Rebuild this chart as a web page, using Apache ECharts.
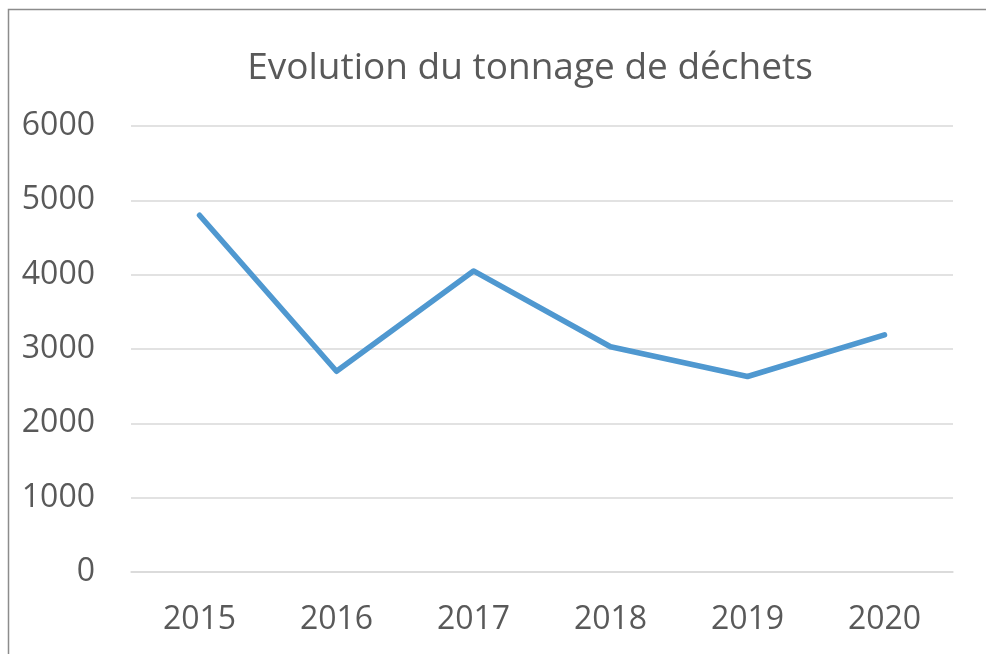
<!DOCTYPE html>
<html>
<head>
<meta charset="utf-8">
<script src="https://cdn.jsdelivr.net/npm/echarts@6/dist/echarts.min.js"></script>
<style>
html,body{margin:0;padding:0;background:#fff;}
#chart{width:986px;height:654px;}
</style>
</head>
<body>
<div id="chart"></div>
<script>
const titleText = "Evolution du tonnage de déchets";
const years = ["2015", "2016", "2017", "2018", "2019", "2020"];
const tonnage = [4800, 2700, 4050, 3030, 2630, 3190];
const yTicks = [0, 1000, 2000, 3000, 4000, 5000, 6000];

const chart = echarts.init(document.getElementById('chart'), null, {renderer: 'canvas'});
const font = "'Open Sans', 'Liberation Sans', sans-serif";
chart.setOption({
  animation: false,
  backgroundColor: '#ffffff',
  graphic: [{
    type: 'rect',
    shape: {x: 8.5, y: 9.5, width: 1100, height: 800},
    style: {fill: 'none', stroke: '#8c8c8c', lineWidth: 1.5},
    silent: true
  }, {
    type: 'text',
    x: 530,
    y: 50,
    style: {
      text: titleText,
      font: "normal 37px 'Open Sans', 'Liberation Sans', sans-serif",
      fill: '#595959',
      align: 'center',
      verticalAlign: 'top'
    },
    silent: true
  }],
  grid: {left: 131, right: 33, top: 126, bottom: 82, containLabel: false},
  xAxis: {
    type: 'category',
    data: years,
    boundaryGap: true,
    axisLine: {show: true, lineStyle: {color: '#d9d9d9', width: 1.5}},
    axisTick: {show: false},
    axisLabel: {fontFamily: font, fontSize: 32, color: '#595959', margin: 32}
  },
  yAxis: {
    type: 'value',
    min: yTicks[0],
    max: yTicks[yTicks.length - 1],
    interval: 1000,
    axisLine: {show: false},
    axisTick: {show: false},
    axisLabel: {fontFamily: font, fontSize: 32, color: '#595959', margin: 36, formatter: v => String(v)},
    splitLine: {lineStyle: {color: '#d9d9d9', width: 1.5}}
  },
  series: [{
    type: 'line',
    data: tonnage,
    symbol: 'none',
    lineStyle: {color: '#4f98d0', width: 5.5, cap: 'round', join: 'round'}
  }]
});
</script>
</body>
</html>
